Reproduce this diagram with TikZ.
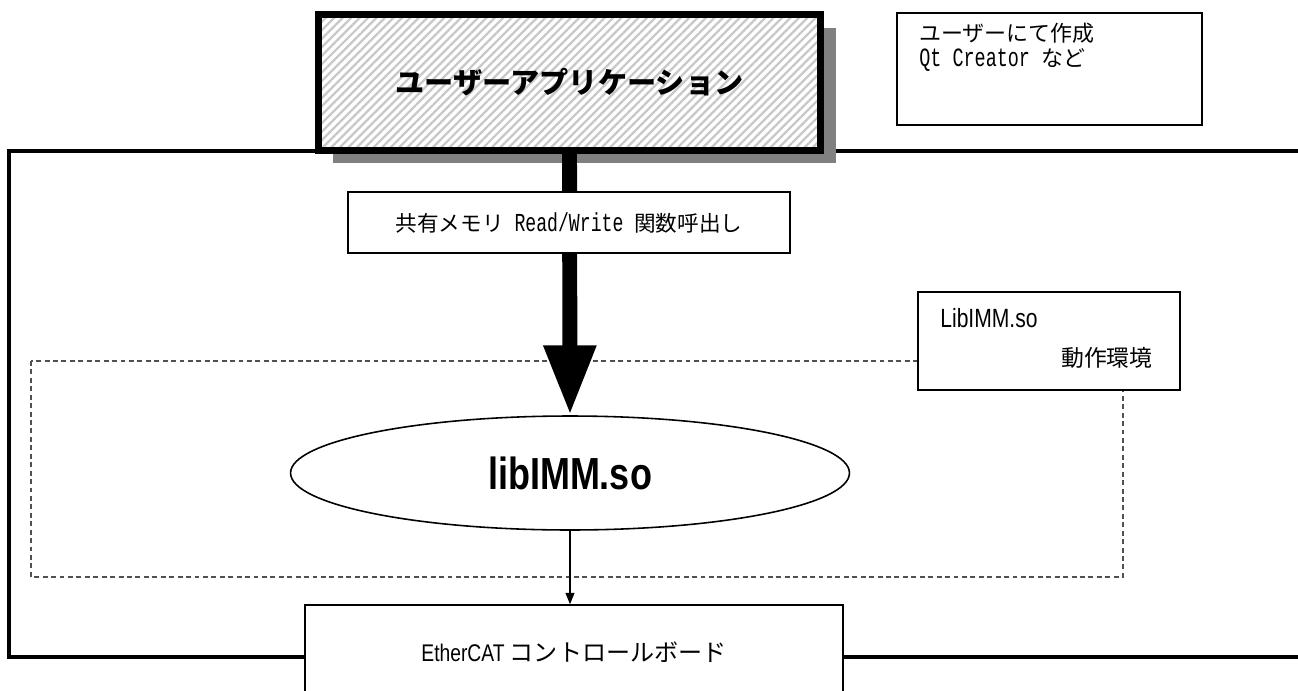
\documentclass[tikz,border=0pt]{standalone}
\usepackage{fontspec}
\setmainfont{Noto Sans CJK JP}
\newfontfamily\narrowsans[FakeStretch=0.8]{Liberation Sans}
\newfontfamily\halfmono[FakeStretch=0.7, Scale=1.2]{Liberation Mono}
\usetikzlibrary{arrows.meta, shapes.geometric, shadows, patterns.meta}
\definecolor{shadowgray}{RGB}{128,128,128}
\definecolor{stripegray}{RGB}{200,200,200}
\definecolor{dashgray}{RGB}{80,80,80}

\begin{document}
\begin{tikzpicture}[
  x=0.02cm, y=-0.02cm,
  appbox/.style={draw, line width=4pt, minimum width=10.06cm, minimum height=2.72cm, inner sep=0pt,
    drop shadow={shadow xshift=8.5pt, shadow yshift=-7.4pt, fill=shadowgray, opacity=1},
    preaction={fill=white},
    pattern={Lines[angle=45, distance=3.4pt, line width=1.3pt]}, pattern color=stripegray,
    font=\bfseries\fontsize{16.6pt}{19pt}\selectfont},
  thinbox/.style={draw, line width=0.8pt, fill=white, inner sep=0pt},
  plaintext/.style={inner sep=0pt},
  libellipse/.style={ellipse, draw, line width=0.9pt, fill=white, inner sep=0pt,
    minimum width=11.18cm, minimum height=2.28cm,
    font=\narrowsans\bfseries\fontsize{25.6pt}{28pt}\selectfont},
  frameline/.style={line width=2.2pt, line join=miter},
  envline/.style={draw=dashgray, line width=0.7pt, dash pattern=on 2.8pt off 2pt},
  fatarrow/.style={line width=8.5pt, -{Triangle[length=39.8pt, width=27.9pt]}},
  thinarrow/.style={line width=0.9pt, -{Triangle[length=6.5pt, width=5pt]}}
]
  \useasboundingbox (0,0) rectangle (1298,690);

  % outer frame, open to the right
  \draw[frameline] (1298,151) -- (9,151) -- (9,657) -- (1298,657);

  \node[appbox] (app) at (569.5,82.5) {ユーザーアプリケーション};

  \node[thinbox, minimum width=6.1cm, minimum height=2.24cm] (note) at (1049.5,69) {};
  \node[plaintext, anchor=west, font=\fontsize{12.5pt}{15pt}\selectfont] (notea) at (919,33) {ユーザーにて作成};
  \node[plaintext, anchor=west, font=\fontsize{12.5pt}{15pt}\selectfont] (noteb) at (919,60) {{\halfmono Qt Creator }など};

  % runtime area
  \draw[envline] (31,361) rectangle (1123,577);

  \node[libellipse] (lib) at (570,473) {libIMM.so};

  \draw[fatarrow] (app.south) -- (lib.north);

  \node[thinbox, minimum width=8.84cm, minimum height=1.22cm, font=\fontsize{12.3pt}{15pt}\selectfont] (call) at (569,222.5)
    {共有メモリ{\halfmono{} Read/Write }関数呼出し};

  \node[thinbox, minimum width=5.24cm, minimum height=1.96cm] (env) at (1049,341) {};
  \node[plaintext, anchor=west, font=\narrowsans\fontsize{15pt}{18pt}\selectfont] (envname) at (940,318) {LibIMM.so};
  \node[plaintext, anchor=east, font=\fontsize{13pt}{16pt}\selectfont] (envlabel) at (1153,358) {動作環境};

  \node[thinbox, minimum width=10.76cm, minimum height=1.9cm, font=\fontsize{13.7pt}{16pt}\selectfont] (board) at (574,652.5)
    {{\narrowsans EtherCAT }コントロールボード};

  \draw[thinarrow] (lib.south) -- (lib.south |- board.north);
\end{tikzpicture}
\end{document}
